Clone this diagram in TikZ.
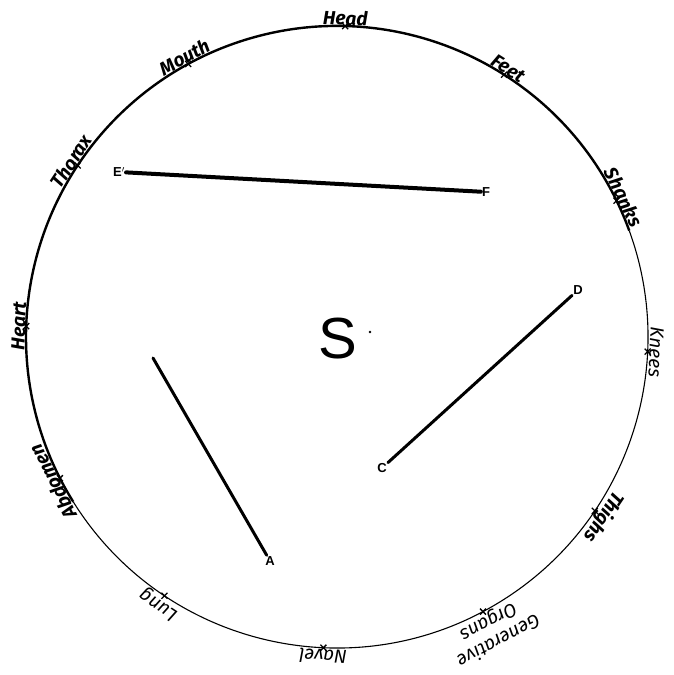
\documentclass[tikz,border=0pt]{standalone}
\usepackage{fontspec}
\setmainfont{Fira Sans}
\setsansfont{Liberation Sans}
\usetikzlibrary{calc}
\begin{document}
\begin{tikzpicture}[x=1pt,y=1pt,
  lblb/.style={font=\fontsize{19}{21}\selectfont\bfseries\itshape, anchor=south, inner sep=0.5pt, align=center},
  lbln/.style={font=\fontsize{19}{21}\selectfont\itshape, anchor=south, inner sep=1.5pt, align=center},
  pt/.style={font=\fontsize{13}{13}\selectfont\sffamily\bfseries, inner sep=1pt},
  seg/.style={line width=3pt, line cap=round}]
\useasboundingbox (0,0) rectangle (673,675);
\coordinate (O) at (337,338);
% circle: heavy on upper left, light on lower right
\draw[line width=2.4pt] ($(O)+(20:311)$) arc[start angle=20, end angle=212, radius=311];
\draw[line width=1.1pt] ($(O)+(212:311)$) arc[start angle=212, end angle=380, radius=311];
% labels round the circle
\foreach \ang/\txt/\nm/\sty in {
  88.5/Head/head/lblb, 118.6/Mouth/mouth/lblb, 57.5/Feet/feet/lblb,
  146.5/Thorax/thorax/lblb, 178/Heart/heart/lblb, 26/Shanks/shanks/lblb,
  -2.7/Knees/knees/lbln, -34/Thighs/thighs/lblb,
  -62/{Generative\\Organs}/genorg/lbln, -92.5/Navel/navel/lbln,
  -123.7/Lung/lung/lbln, -153/Abdomen/abdomen/lblb} {
  \node[\sty, rotate=\ang-90] (\nm) at ($(O)+(\ang:311)$) {\txt};
  \draw[line width=1.3pt] ($(O)+(\ang:311)+(-3,-3)$) -- ++(6,6)
                          ($(O)+(\ang:311)+(-3,3)$) -- ++(6,-6);
}
% centre
\node[font=\fontsize{58}{58}\selectfont\sffamily] (s) at (338,336) {S};
\fill (370,343) circle (1.3pt);
% segments
\node[pt] (e) at (119,503) {E$'$};
\node[pt] (f) at (486,483) {F};
\draw[seg, line width=4pt] (e) -- (f);
\coordinate (atop) at (153,317);
\node[pt] (a) at (270,114) {A};
\draw[seg] (atop) -- (a);
\node[pt] (c) at (382,207) {C};
\node[pt] (d) at (578,385) {D};
\draw[seg] (c) -- (d);
\end{tikzpicture}
\end{document}
